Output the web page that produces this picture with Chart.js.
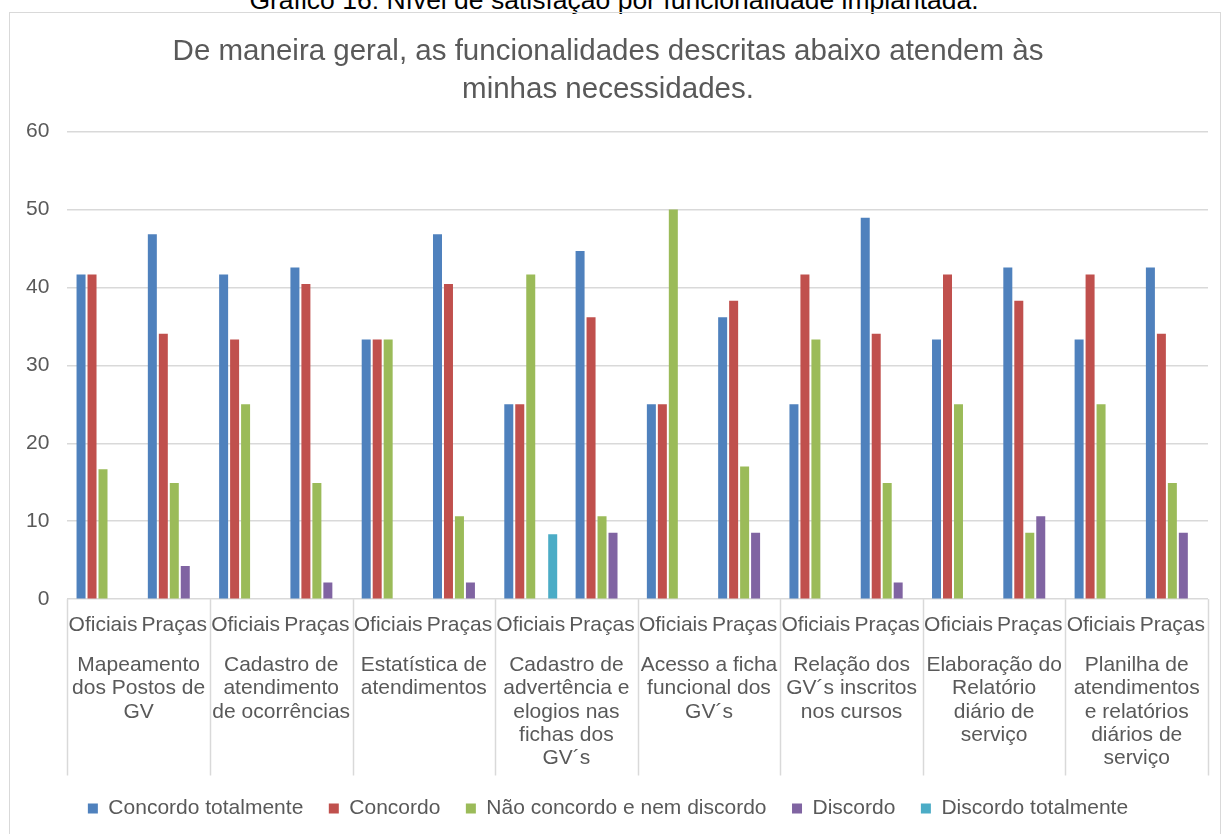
<!DOCTYPE html>
<html lang="pt-BR">
<head>
<meta charset="utf-8">
<title>Nível de satisfação por funcionalidade implantada</title>
<script src="https://cdn.jsdelivr.net/npm/chart.js@4.4.1/dist/chart.umd.min.js"></script>
<style>
  html, body { margin: 0; padding: 0; background: #fff; overflow: hidden; }
  #wrap { position: relative; width: 1224px; height: 834px; }
  #caption {
    position: absolute; left: 0; top: -13px; width: 1228px;
    text-align: center; white-space: nowrap;
    font: 26.5px/1 "Liberation Sans", Arial, sans-serif; color: #000;
  }
  #frame {
    position: absolute; left: 9px; top: 12px; width: 1212px; height: 900px;
    border: 1px solid #d9d9d9; box-sizing: border-box;
  }
  #chart { position: absolute; left: 0; top: 0; }
</style>
</head>
<body>
<div id="wrap">
  <div id="caption">Gráfico 16: Nível de satisfação por funcionalidade implantada.</div>
  <div id="frame"></div>
  <canvas id="chart" width="1224" height="834"></canvas>
</div>
<script>
// posto do respondente (repete em cada funcionalidade)
const postos = ["Oficiais", "Praças"];

// funcionalidades avaliadas, já quebradas em linhas
const funcionalidades = [
    ["Mapeamento", "dos Postos de", "GV"],
    ["Cadastro de", "atendimento", "de ocorrências"],
    ["Estatística de", "atendimentos"],
    ["Cadastro de", "advertência e", "elogios nas", "fichas dos", "GV´s"],
    ["Acesso a ficha", "funcional dos", "GV´s"],
    ["Relação dos", "GV´s inscritos", "nos cursos"],
    ["Elaboração do", "Relatório", "diário de", "serviço"],
    ["Planilha de", "atendimentos", "e relatórios", "diários de", "serviço"]
];

// percentuais (Oficiais, Praças) por funcionalidade
const concordoTotalmente = [41.67, 46.81, 41.67, 42.55, 33.33, 46.81, 25, 44.68, 25, 36.17, 25, 48.94, 33.33, 42.55, 33.33, 42.55];
const concordo           = [41.67, 34.04, 33.33, 40.43, 33.33, 40.43, 25, 36.17, 25, 38.30, 41.67, 34.04, 41.67, 38.30, 41.67, 34.04];
const naoConcordo        = [16.67, 14.89, 25, 14.89, 33.33, 10.64, 41.67, 10.64, 50, 17.02, 33.33, 14.89, 25, 8.51, 25, 14.89];
const discordo           = [0, 4.26, 0, 2.13, 0, 2.13, 0, 8.51, 0, 8.51, 0, 2.13, 0, 10.64, 0, 8.51];
const discordoTotalmente = [0, 0, 0, 0, 0, 0, 8.33, 0, 0, 0, 0, 0, 0, 0, 0, 0];

const yTicks = [0, 10, 20, 30, 40, 50, 60];

const labels = [];
funcionalidades.forEach(() => postos.forEach(p => labels.push(p)));

const gridColor = "#d9d9d9";
const textColor = "#595959";
Chart.defaults.font.family = "'Liberation Sans', Arial, sans-serif";
Chart.defaults.color = textColor;

// linhas verticais que separam as funcionalidades no eixo x
const groupLines = {
    id: "groupLines",
    afterDraw(chart) {
        const x = chart.scales.x;
        const x2 = chart.scales.x2;
        const ctx = chart.ctx;
        const step = (x.right - x.left) / funcionalidades.length;
        ctx.save();
        ctx.strokeStyle = gridColor;
        ctx.lineWidth = 1.5;
        for (let g = 0; g <= funcionalidades.length; g++) {
            const px = Math.round(x.left + g * step) + 0.5;
            ctx.beginPath();
            ctx.moveTo(px, chart.chartArea.bottom);
            ctx.lineTo(px, x2.bottom + 3);
            ctx.stroke();
        }
        ctx.restore();
    }
};

const data = {
    labels: labels,
    datasets: [
        { label: "Concordo totalmente", data: concordoTotalmente, backgroundColor: "#4f81bd" },
        { label: "Concordo", data: concordo, backgroundColor: "#c0504d" },
        { label: "Não concordo e nem discordo", data: naoConcordo, backgroundColor: "#9bbb59" },
        { label: "Discordo", data: discordo, backgroundColor: "#8064a2" },
        { label: "Discordo totalmente", data: discordoTotalmente, backgroundColor: "#4bacc6" }
    ]
};

const config = {
    type: "bar",
    data: data,
    options: {
        responsive: false,
        animation: false,
        categoryPercentage: 0.77,
        barPercentage: 0.82,
        layout: {
            padding: { top: 12, left: 8, right: 16, bottom: 5 }
        },
        plugins: {
            tooltip: { enabled: false },
            title: {
                display: true,
                text: ["De maneira geral, as funcionalidades descritas abaixo atendem às", "minhas necessidades."],
                color: textColor,
                font: { size: 29.5, weight: "normal", lineHeight: 1.28 },
                padding: { top: 21, bottom: 23 }
            },
            legend: {
                position: "bottom",
                labels: {
                    boxWidth: 10,
                    boxHeight: 10,
                    padding: 25.5,
                    color: textColor,
                    font: { size: 21 }
                }
            }
        },
        scales: {
            x: {
                grid: { display: false, drawTicks: false },
                border: { display: false },
                ticks: {
                    padding: 13.4,
                    autoSkip: false,
                    maxRotation: 0,
                    font: { size: 21, lineHeight: 1.2 }
                }
            },
            x2: {
                type: "category",
                position: "bottom",
                labels: funcionalidades,
                offset: true,
                grid: { display: false, drawTicks: false },
                border: { display: false },
                ticks: {
                    padding: 2.4,
                    autoSkip: false,
                    maxRotation: 0,
                    font: { size: 21, lineHeight: 1.11 }
                }
            },
            y: {
                min: 0,
                max: 60,
                afterBuildTicks: (scale) => { scale.ticks = yTicks.map(v => ({ value: v })); },
                grid: { color: gridColor, lineWidth: 1.5, drawTicks: false },
                border: { display: false },
                ticks: {
                    padding: 18,
                    font: { size: 21 }
                }
            }
        }
    },
    plugins: [groupLines]
};

const chart = new Chart(document.getElementById("chart"), config);
</script>
</body>
</html>
